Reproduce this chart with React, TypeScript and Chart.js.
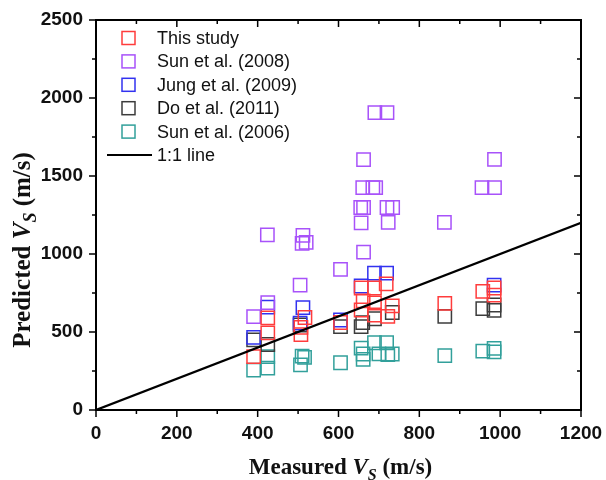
import React, { useEffect, useRef } from "react";
import { Chart, registerables } from "chart.js";

Chart.register(...registerables);

const thisStudyX = [390, 425, 425, 507, 507, 517, 605, 656, 689, 718, 661, 689, 733, 656, 689, 722, 863, 957, 985, 985];
const thisStudyY = [342, 590, 495, 483, 529, 593, 561, 782, 782, 808, 699, 686, 667, 641, 609, 600, 684, 760, 782, 737];

const sun2008X = [390, 425, 424, 505, 512, 510, 520, 605, 655, 662, 656, 662, 662, 660, 685, 692, 690, 720, 720, 734, 723, 862, 955, 986, 986];
const sun2008Y = [598, 688, 1122, 800, 1120, 1068, 1075, 902, 1298, 1298, 1200, 1012, 1605, 1425, 1425, 1425, 1906, 1906, 1298, 1298, 1203, 1203, 1425, 1425, 1606];

const jung2009X = [390, 425, 512, 505, 605, 656, 689, 719, 985];
const jung2009Y = [465, 660, 656, 557, 577, 795, 878, 878, 801];

const do2011X = [390, 425, 505, 605, 656, 660, 689, 733, 863, 957, 985, 985];
const do2011Y = [449, 420, 545, 534, 535, 560, 585, 625, 600, 650, 673, 638];

const sun2006X = [390, 425, 425, 516, 506, 510, 605, 656, 661, 661, 689, 719, 733, 700, 722, 863, 957, 985, 985];
const sun2006Y = [256, 342, 268, 337, 289, 345, 303, 397, 359, 325, 431, 431, 359, 360, 355, 349, 378, 395, 373];

const lineX = [0, 1200];
const lineY = [0, 1200];

const seriesLabels = ["This study", "Sun et al. (2008)", "Jung et al. (2009)", "Do et al. (2011)", "Sun et al. (2006)"];
const seriesColors = ["rgb(255,60,60)", "rgb(168,82,250)", "rgb(50,50,240)", "rgb(60,60,60)", "rgb(50,160,155)"];
const lineLabel = "1:1 line";

const xTicks = [0, 200, 400, 600, 800, 1000, 1200];
const yTicks = [0, 500, 1000, 1500, 2000, 2500];

const zip = (xs: number[], ys: number[]) => xs.map((x, i) => ({ x, y: ys[i] }));

const framePlugin = {
  id: "framePlugin",
  afterDraw(chart: any) {
    const { ctx, chartArea } = chart;
    const { left, right, top, bottom } = chartArea;
    const xs = chart.scales.x;
    const ys = chart.scales.y;
    ctx.save();
    ctx.strokeStyle = "#000";
    ctx.lineWidth = 2;
    ctx.strokeRect(left, top, right - left, bottom - top);
    ctx.lineWidth = 1.5;
    for (let v = 0; v <= 1200; v += 100) {
      const px = xs.getPixelForValue(v);
      const len = v % 200 === 0 ? 7 : 4;
      ctx.beginPath();
      ctx.moveTo(px, bottom);
      ctx.lineTo(px, bottom + len);
      ctx.moveTo(px, top);
      ctx.lineTo(px, top + len);
      ctx.stroke();
    }
    for (let v = 0; v <= 2500; v += 250) {
      const py = ys.getPixelForValue(v);
      const len = v % 500 === 0 ? 7 : 4;
      ctx.beginPath();
      ctx.moveTo(left, py);
      ctx.lineTo(left - len, py);
      ctx.moveTo(right, py);
      ctx.lineTo(right - len, py);
      ctx.stroke();
    }

    // legend
    const rowY0 = 38;
    const dy = 23.4;
    ctx.font = "18px 'Liberation Sans', Arial, sans-serif";
    ctx.textBaseline = "middle";
    ctx.textAlign = "left";
    seriesLabels.forEach((lab, i) => {
      const y = rowY0 + dy * i;
      ctx.strokeStyle = seriesColors[i];
      ctx.lineWidth = 1.5;
      ctx.strokeRect(122, y - 6.5, 13, 13);
      ctx.fillStyle = "#111";
      ctx.fillText(lab, 157, y + 1);
    });
    const ly = rowY0 + dy * 5;
    ctx.strokeStyle = "#000";
    ctx.lineWidth = 2;
    ctx.beginPath();
    ctx.moveTo(107, ly);
    ctx.lineTo(152, ly);
    ctx.stroke();
    ctx.fillStyle = "#111";
    ctx.fillText(lineLabel, 157, ly + 1);

    // axis titles
    const drawTitle = (cx: number, cy: number, rot: number, pre: string, fs: number) => {
      const fReg = `bold ${fs}px 'Liberation Serif', 'Times New Roman', serif`;
      const fIt = `italic bold ${fs}px 'Liberation Serif', 'Times New Roman', serif`;
      const fSub = `italic bold ${Math.round(fs * 0.7)}px 'Liberation Serif', 'Times New Roman', serif`;
      const parts = [
        { t: pre + " ", f: fReg, dy: 0 },
        { t: "V", f: fIt, dy: 0 },
        { t: "S", f: fSub, dy: fs * 0.25 },
        { t: " (m/s)", f: fReg, dy: 0 },
      ];
      let total = 0;
      parts.forEach((p) => {
        ctx.font = p.f;
        total += ctx.measureText(p.t).width;
      });
      ctx.save();
      ctx.translate(cx, cy);
      ctx.rotate(rot);
      ctx.textBaseline = "alphabetic";
      ctx.textAlign = "left";
      ctx.fillStyle = "#111";
      let x = -total / 2;
      parts.forEach((p) => {
        ctx.font = p.f;
        ctx.fillText(p.t, x, fs * 0.35 + p.dy);
        x += ctx.measureText(p.t).width;
      });
      ctx.restore();
    };
    drawTitle((left + right) / 2 + 2, 466, 0, "Measured", 23);
    drawTitle(21, 250, -Math.PI / 2, "Predicted", 25);
    ctx.restore();
  },
};

export default function App() {
  const ref = useRef<HTMLCanvasElement | null>(null);
  useEffect(() => {
    if (!ref.current) return;
    const datasets: any[] = [
      { label: seriesLabels[0], data: zip(thisStudyX, thisStudyY), borderColor: seriesColors[0] },
      { label: seriesLabels[1], data: zip(sun2008X, sun2008Y), borderColor: seriesColors[1] },
      { label: seriesLabels[2], data: zip(jung2009X, jung2009Y), borderColor: seriesColors[2] },
      { label: seriesLabels[3], data: zip(do2011X, do2011Y), borderColor: seriesColors[3] },
      { label: seriesLabels[4], data: zip(sun2006X, sun2006Y), borderColor: seriesColors[4] },
    ].map((d) => ({
      ...d,
      type: "scatter",
      pointStyle: "rect",
      pointRadius: 9.4,
      pointBorderWidth: 1.5,
      backgroundColor: "rgba(0,0,0,0)",
      pointBackgroundColor: "rgba(0,0,0,0)",
      pointBorderColor: d.borderColor,
      showLine: false,
    }));
    datasets.push({
      type: "line",
      label: lineLabel,
      data: zip(lineX, lineY),
      borderColor: "#000",
      borderWidth: 2.2,
      pointRadius: 0,
      fill: false,
      order: -1,
    });
    const tickFont = { family: "'Liberation Sans', Arial, sans-serif", size: 19, weight: "bold" as const };
    const chart = new Chart(ref.current, {
      type: "scatter",
      data: { datasets },
      options: {
        animation: false,
        responsive: false,
        layout: { padding: { left: 0, right: 25, top: 20, bottom: 0 } },
        plugins: { legend: { display: false }, tooltip: { enabled: false } },
        scales: {
          x: {
            type: "linear",
            min: 0,
            max: 1200,
            afterFit: (s: any) => { s.height = 70; s.paddingLeft = 0; s.paddingRight = 0; },
            afterBuildTicks: (s: any) => { s.ticks = xTicks.map((v) => ({ value: v })); },
            grid: { display: false, drawTicks: false },
            border: { display: false },
            ticks: { font: tickFont, color: "#111", padding: 12, maxRotation: 0, autoSkip: false, callback: (v: any) => String(v) },
          },
          y: {
            type: "linear",
            min: 0,
            max: 2500,
            afterFit: (s: any) => { s.width = 96; s.paddingTop = 0; s.paddingBottom = 0; },
            afterBuildTicks: (s: any) => { s.ticks = yTicks.map((v) => ({ value: v })); },
            grid: { display: false, drawTicks: false },
            border: { display: false },
            ticks: { font: tickFont, color: "#111", padding: 13, autoSkip: false, callback: (v: any) => String(v) },
          },
        },
      },
      plugins: [framePlugin],
    });
    return () => chart.destroy();
  }, []);
  return (
    <div style={{ position: "absolute", left: 0, top: 0, width: 606, height: 480, background: "#fff" }}>
      <canvas ref={ref} width={606} height={480} />
    </div>
  );
}
